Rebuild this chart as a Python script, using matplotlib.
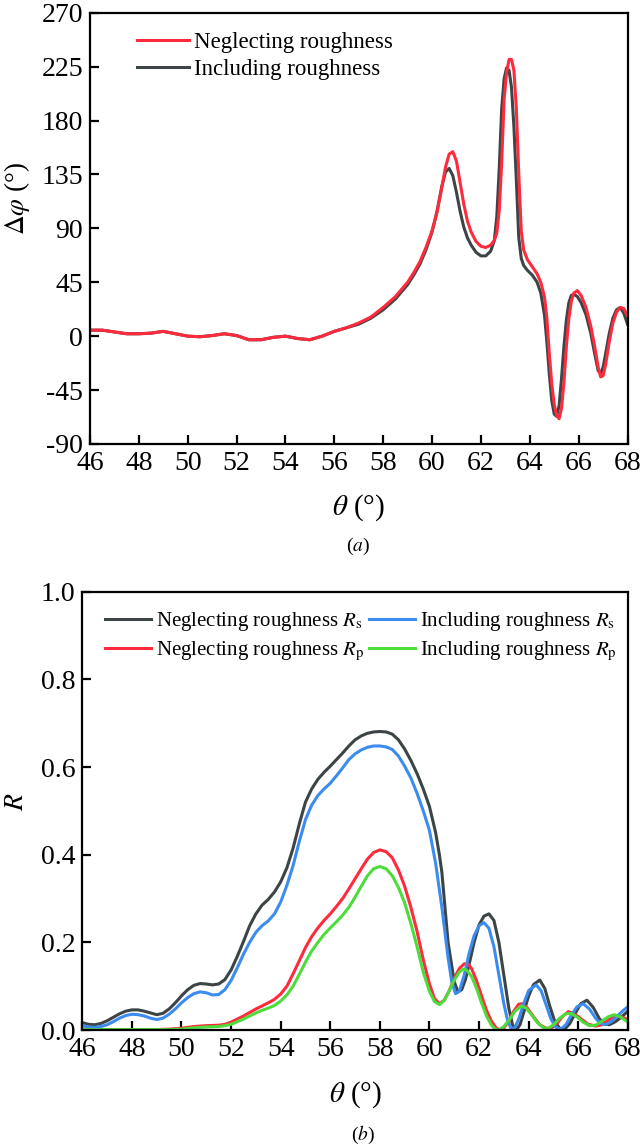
import matplotlib
matplotlib.use("Agg")
import matplotlib.pyplot as plt

# (a) phase difference, degrees
theta_a = [46, 46.5, 47, 47.5, 48, 48.5, 49, 49.5, 50, 50.5, 51, 51.5, 52, 52.5,
           53, 53.5, 54, 54.5, 55, 55.5, 56, 56.5, 57, 57.5, 58, 58.5, 59,
           59.25, 59.5, 59.75, 60, 60.2, 60.4, 60.55, 60.7, 60.85,
           61.0, 61.15, 61.3, 61.45, 61.6, 61.8, 62.0, 62.2, 62.4,
           62.55, 62.65, 62.75, 62.85, 62.95, 63.05, 63.15, 63.25, 63.35, 63.45,
           63.55, 63.65, 63.75, 63.9, 64.1, 64.3, 64.45, 64.6, 64.7, 64.8, 64.9, 65.0,
           65.1, 65.2, 65.3, 65.4, 65.5, 65.6, 65.7, 65.8, 65.95, 66.1, 66.3, 66.5,
           66.65, 66.8, 66.9, 67.0, 67.1, 67.25, 67.4, 67.55, 67.7, 67.85, 68]
dphi_neglect = [5, 5, 3.5, 2, 2, 2.5, 4, 2, 0, -0.5, 0.5, 2, 0.5, -3,
                -3, -1, 0, -2, -3, 0, 4, 7, 11, 16, 24, 33, 45,
                53, 62, 74, 88, 103, 124, 141, 152, 154,
                146, 128, 110, 96, 87, 79, 75, 74, 76,
                80, 86, 105, 145, 198, 220, 231, 231, 222, 190,
                135, 88, 72, 64, 58, 52, 45, 33, 15, -15, -40, -57,
                -66, -69, -60, -38, -8, 15, 29, 36, 38, 34, 24, 8,
                -8, -26, -34, -33, -24, -5, 11, 20, 24, 23, 17]
dphi_include = [5, 5, 3.5, 2, 2, 2.5, 4, 2, 0, -0.5, 0.5, 2, 0.5, -3,
                -3, -1, 0, -2, -3, 0, 4, 7, 10, 15, 22, 31, 43,
                51, 60, 72, 87, 104, 125, 137, 140, 134,
                120, 104, 91, 82, 76, 70, 67, 67, 71,
                80, 100, 140, 190, 215, 224, 222, 208, 175, 130,
                82, 65, 59, 55, 51, 45, 36, 18, -5, -32, -54, -65,
                -67, -58, -35, -8, 14, 28, 34, 35, 33, 28, 18, 2,
                -14, -29, -31, -26, -15, 2, 15, 22, 24, 19, 10]

# (b) reflectance
theta_rs_n = [46, 46.25, 46.5, 46.75, 47, 47.25, 47.5, 47.75, 48, 48.25, 48.5, 48.75,
              49, 49.25, 49.5, 49.75, 50, 50.25, 50.5, 50.75, 51, 51.25, 51.5, 51.75,
              52, 52.25, 52.5, 52.75, 53, 53.25, 53.5, 53.75, 54, 54.25, 54.5, 54.75,
              55, 55.25, 55.5, 55.75, 56, 56.25, 56.5, 56.75, 57, 57.25, 57.5, 57.75,
              58, 58.25, 58.5, 58.75, 59, 59.25, 59.5, 59.75, 60, 60.25, 60.4, 60.5,
              60.75, 61.0, 61.15, 61.3, 61.45, 61.6, 61.8, 62.0, 62.2, 62.4, 62.6, 62.8,
              63.0, 63.2, 63.35, 63.5, 63.65, 63.8, 64.0, 64.2, 64.45, 64.65, 64.85,
              65.05, 65.25, 65.45, 65.65, 65.85, 66.1, 66.35, 66.6, 66.85, 67.05, 67.25,
              67.5, 67.75, 68]
rs_neglect = [0.017, 0.013, 0.012, 0.015, 0.021, 0.029, 0.037, 0.043, 0.046, 0.046, 0.043, 0.039,
              0.035, 0.038, 0.048, 0.062, 0.078, 0.092, 0.102, 0.106, 0.105, 0.103, 0.105, 0.115,
              0.137, 0.168, 0.202, 0.238, 0.265, 0.285, 0.298, 0.315, 0.338, 0.37, 0.415, 0.47,
              0.52, 0.55, 0.572, 0.588, 0.602, 0.617, 0.632, 0.648, 0.662, 0.671, 0.677, 0.68,
              0.681, 0.68, 0.675, 0.662, 0.641, 0.615, 0.585, 0.55, 0.51, 0.45, 0.4, 0.36,
              0.2, 0.11, 0.087, 0.092, 0.115, 0.15, 0.2, 0.24, 0.26, 0.265, 0.25, 0.2,
              0.125, 0.05, 0.012, 0.0, 0.012, 0.04, 0.078, 0.104, 0.114, 0.095, 0.055,
              0.02, 0.004, 0.002, 0.014, 0.035, 0.06, 0.068, 0.052, 0.026, 0.014, 0.012,
              0.019, 0.03, 0.043]

theta_rs_i = [46, 46.25, 46.5, 46.75, 47, 47.25, 47.5, 47.75, 48, 48.25, 48.5, 48.75,
              49, 49.25, 49.5, 49.75, 50, 50.25, 50.5, 50.75, 51, 51.25, 51.5, 51.75,
              52, 52.25, 52.5, 52.75, 53, 53.25, 53.5, 53.75, 54, 54.25, 54.5, 54.75,
              55, 55.25, 55.5, 55.75, 56, 56.25, 56.5, 56.75, 57, 57.25, 57.5, 57.75,
              58, 58.25, 58.5, 58.75, 59, 59.25, 59.5, 59.75, 60, 60.25, 60.5, 60.75,
              60.9, 61.05, 61.2, 61.4, 61.6, 61.8, 62.0, 62.2, 62.4, 62.6, 62.8, 63.0,
              63.15, 63.3, 63.45, 63.6, 63.8, 64.0, 64.3, 64.5, 64.7, 64.9, 65.1, 65.3,
              65.5, 65.7, 65.95, 66.2, 66.45, 66.7, 66.9, 67.1, 67.35, 67.6, 67.8, 68]
rs_include = [0.01, 0.007, 0.006, 0.008, 0.012, 0.019, 0.027, 0.033, 0.036, 0.035, 0.032, 0.027,
              0.024, 0.027, 0.036, 0.048, 0.062, 0.074, 0.083, 0.087, 0.085, 0.08, 0.081, 0.092,
              0.113, 0.142, 0.173, 0.2, 0.223, 0.238, 0.249, 0.265, 0.292, 0.33, 0.375, 0.43,
              0.48, 0.513, 0.535, 0.55, 0.563, 0.58, 0.598, 0.617, 0.63, 0.639, 0.645, 0.648,
              0.648, 0.646, 0.64, 0.625, 0.602, 0.575, 0.54, 0.5, 0.455, 0.38, 0.28, 0.165,
              0.11, 0.083, 0.088, 0.125, 0.175, 0.215, 0.238, 0.245, 0.232, 0.19, 0.125, 0.06,
              0.022, 0.002, 0.006, 0.025, 0.06, 0.09, 0.103, 0.09, 0.058, 0.025, 0.006, 0.002,
              0.012, 0.032, 0.053, 0.06, 0.048, 0.027, 0.015, 0.012, 0.02, 0.033, 0.044, 0.053]

theta_rp = [46, 47, 48, 49, 49.5, 50, 50.5, 51, 51.5, 51.75, 52, 52.25, 52.5, 52.75,
            53, 53.25, 53.5, 53.75, 54, 54.25, 54.5, 54.75, 55, 55.25, 55.5, 55.75,
            56, 56.25, 56.5, 56.75, 57, 57.25, 57.5, 57.75, 58, 58.25, 58.5, 58.75,
            59, 59.25, 59.5, 59.75, 60, 60.2, 60.4, 60.6, 60.8, 61.0, 61.2, 61.4,
            61.55, 61.7, 61.9, 62.1, 62.3, 62.5, 62.7, 62.85, 63.0, 63.2, 63.4, 63.6,
            63.75, 63.95, 64.2, 64.45, 64.7, 64.9, 65.1, 65.35, 65.6, 65.85, 66.1, 66.4,
            66.7, 66.95, 67.2, 67.45, 67.7, 68]
rp_neglect = [0.002, 0.001, 0.001, 0.001, 0.002, 0.004, 0.008, 0.01, 0.011, 0.013, 0.018, 0.025, 0.032, 0.04,
              0.048, 0.055, 0.062, 0.07, 0.082, 0.1, 0.128, 0.158, 0.188, 0.213, 0.233, 0.25,
              0.265, 0.282, 0.3, 0.322, 0.345, 0.368, 0.39, 0.405, 0.411, 0.407, 0.393, 0.365,
              0.328, 0.28, 0.225, 0.16, 0.105, 0.072, 0.06, 0.068, 0.09, 0.118, 0.14, 0.151,
              0.151, 0.14, 0.112, 0.078, 0.045, 0.02, 0.004, 0.0, 0.005, 0.02, 0.043, 0.059,
              0.06, 0.05, 0.03, 0.012, 0.004, 0.004, 0.012, 0.03, 0.042, 0.037, 0.026, 0.013,
              0.009, 0.012, 0.022, 0.031, 0.031, 0.024]

theta_rp_i = [46, 47, 48, 49, 49.5, 50, 50.5, 51, 51.5, 51.75, 52, 52.25, 52.5, 52.75,
              53, 53.25, 53.5, 53.75, 54, 54.25, 54.5, 54.75, 55, 55.25, 55.5, 55.75,
              56, 56.25, 56.5, 56.75, 57, 57.25, 57.5, 57.75, 58, 58.25, 58.5, 58.75,
              59, 59.25, 59.5, 59.75, 60, 60.2, 60.4, 60.6, 60.8, 61.0, 61.2, 61.35,
              61.5, 61.7, 61.9, 62.1, 62.3, 62.5, 62.65, 62.8, 63.0, 63.2, 63.45, 63.7,
              63.9, 64.1, 64.35, 64.6, 64.8, 65.0, 65.25, 65.5, 65.7, 65.95, 66.2, 66.45,
              66.7, 66.95, 67.2, 67.45, 67.7, 68]
rp_include = [0.001, 0.001, 0.001, 0.001, 0.001, 0.002, 0.005, 0.007, 0.008, 0.01, 0.013, 0.019, 0.025, 0.032,
              0.039, 0.045, 0.05, 0.056, 0.066, 0.08, 0.1, 0.127, 0.155, 0.18, 0.2, 0.218,
              0.233, 0.247, 0.262, 0.28, 0.303, 0.328, 0.352, 0.368, 0.373, 0.368, 0.352, 0.325,
              0.29, 0.243, 0.19, 0.132, 0.088, 0.065, 0.058, 0.068, 0.09, 0.114, 0.132, 0.139,
              0.137, 0.122, 0.095, 0.062, 0.032, 0.011, 0.002, 0.0, 0.008, 0.022, 0.043, 0.055,
              0.05, 0.036, 0.017, 0.005, 0.004, 0.012, 0.027, 0.037, 0.038, 0.03, 0.018, 0.01,
              0.011, 0.02, 0.03, 0.035, 0.03, 0.018]

RED = "#ff2a3c"
GRAY = "#3c4446"
BLUE = "#3c8cf0"
GREEN = "#4cdc3c"

plt.rcParams["font.family"] = ["Liberation Serif", "DejaVu Serif"]
plt.rcParams["mathtext.fontset"] = "stix"
plt.rcParams["axes.unicode_minus"] = False

fig = plt.figure(figsize=(6.4, 11.46), dpi=100)
ax1 = fig.add_axes([0.1406, 0.6126, 0.8399, 0.3763])
ax2 = fig.add_axes([0.1286, 0.1012, 0.8524, 0.3825])

lw = 2.2
g1, = ax1.plot(theta_a, dphi_include, color=GRAY, lw=lw, label="Including roughness")
r1, = ax1.plot(theta_a, dphi_neglect, color=RED, lw=lw, label="Neglecting roughness")
ax1.set_xlim(46, 68)
ax1.set_ylim(-90, 270)
ax1.set_xticks(range(46, 69, 2))
ax1.set_yticks(range(-90, 271, 45))
ax1.legend(handles=[r1, g1], loc="upper left", bbox_to_anchor=(0.087, 0.955),
           frameon=False, fontsize=16.5, handlelength=2.3, handletextpad=0.2,
           labelspacing=0.25, borderaxespad=0, borderpad=0)
ax1.set_ylabel(r"$\Delta\varphi$ (°)", fontsize=19.5)
ax1.set_xlabel(r"$\theta$ (°)", fontsize=21)
ax1.yaxis.set_label_coords(-0.108, 0.57)
ax1.xaxis.set_label_coords(0.5, -0.113)

ax2.plot(theta_rs_n, rs_neglect, color=GRAY, lw=lw, label=r"Neglecting roughness $R_\mathrm{s}$")
ax2.plot(theta_rp, rp_neglect, color=RED, lw=lw, label=r"Neglecting roughness $R_\mathrm{p}$")
ax2.plot(theta_rs_i, rs_include, color=BLUE, lw=lw, label=r"Including roughness $R_\mathrm{s}$")
ax2.plot(theta_rp_i, rp_include, color=GREEN, lw=lw, label=r"Including roughness $R_\mathrm{p}$")
ax2.set_xlim(46, 68)
ax2.set_ylim(0, 1.0)
ax2.set_xticks(range(46, 69, 2))
ax2.set_yticks([0, 0.2, 0.4, 0.6, 0.8, 1.0])
ax2.set_yticklabels(["0.0", "0.2", "0.4", "0.6", "0.8", "1.0"])
ax2.legend(ncol=2, loc="upper left", bbox_to_anchor=(0.042, 0.958),
           frameon=False, fontsize=15, handlelength=2.2, handletextpad=0.25,
           labelspacing=0.3, columnspacing=0.2, borderaxespad=0, borderpad=0)
ax2.set_ylabel(r"$R$", fontsize=20)
ax2.set_xlabel(r"$\theta$ (°)", fontsize=21)
ax2.yaxis.set_label_coords(-0.098, 0.52)
ax2.xaxis.set_label_coords(0.5, -0.112)

for ax in (ax1, ax2):
    for s in ax.spines.values():
        s.set_linewidth(1.6)
    ax.tick_params(direction="in", length=6.5, width=1.6, labelsize=20,
                   top=False, right=False)
    ax.tick_params(axis="x", pad=5)
    ax.tick_params(axis="y", pad=5)

fig.text(0.56, 0.523, "($a$)", ha="center", va="center", fontsize=14)
fig.text(0.567, 0.0096, "($b$)", ha="center", va="center", fontsize=14)

fig.savefig("out.png", dpi=100)
